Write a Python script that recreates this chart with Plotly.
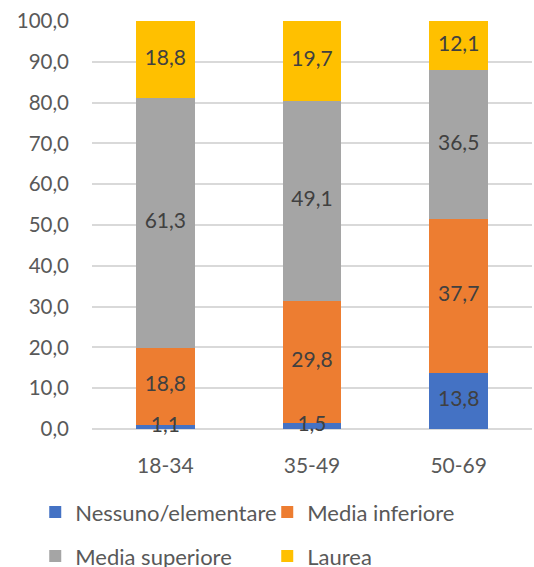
import plotly.graph_objects as go
import numpy as np

categories = ["18-34", "35-49", "50-69"]
series_names = ["Nessuno/elementare", "Media inferiore", "Media superiore", "Laurea"]
nessuno = [1.1, 1.5, 13.8]
media_inferiore = [18.8, 29.8, 37.7]
media_superiore = [61.3, 49.1, 36.5]
laurea = [18.8, 19.7, 12.1]
y_ticks = [0, 10, 20, 30, 40, 50, 60, 70, 80, 90, 100]
y_tick_labels = ["0,0", "10,0", "20,0", "30,0", "40,0", "50,0", "60,0", "70,0", "80,0", "90,0", "100,0"]

colors = ["#4472C4", "#ED7D31", "#A5A5A5", "#FFC000"]
series = [nessuno, media_inferiore, media_superiore, laurea]
legend_ids = ["legend", "legend", "legend2", "legend2"]
FONT = "Lato"

fig = go.Figure()
for name, vals, col, lg in zip(series_names, series, colors, legend_ids):
    fig.add_trace(go.Bar(x=categories, y=vals, name=name, marker_color=col,
                         marker_line_width=0, legend=lg, hoverinfo="skip"))

# value labels centred on each stacked segment
base = np.zeros(len(categories))
for vals in series:
    v = np.array(vals)
    mid = base + v / 2
    fig.add_trace(go.Scatter(x=categories, y=mid, mode="text",
                             text=[f"{x:.1f}".replace(".", ",") for x in v],
                             textfont=dict(family=FONT, size=21, color="#404040"),
                             showlegend=False, hoverinfo="skip", cliponaxis=False))
    base = base + v

legend_common = dict(orientation="h", xanchor="left", yanchor="middle",
                     traceorder="normal",
                     font=dict(family=FONT, size=22, color="#595959"),
                     entrywidth=187, entrywidthmode="pixels",
                     bgcolor="rgba(0,0,0,0)", itemclick=False, itemdoubleclick=False)

fig.update_layout(
    barmode="stack",
    bargap=0.6,
    width=534, height=567,
    margin=dict(l=92, r=2, t=21, b=138, pad=0, autoexpand=False),
    paper_bgcolor="white", plot_bgcolor="white",
    font=dict(family=FONT, size=21, color="#595959"),
    xaxis=dict(showgrid=False, showline=False, ticks="", tickfont=dict(size=21),
               ticklabelstandoff=22),
    yaxis=dict(range=[0, 100], tickvals=y_ticks, ticktext=y_tick_labels,
               showgrid=True, gridcolor="#D9D9D9", gridwidth=1.5,
               zeroline=True, zerolinecolor="#D9D9D9", zerolinewidth=1.5,
               showline=False, ticks="", tickfont=dict(size=20.5),
               ticklabelstandoff=22),
    legend=dict(x=-0.129, y=-0.204, **legend_common),
    legend2=dict(x=-0.129, y=-0.312, **legend_common),
)

fig.write_html("out.html")
